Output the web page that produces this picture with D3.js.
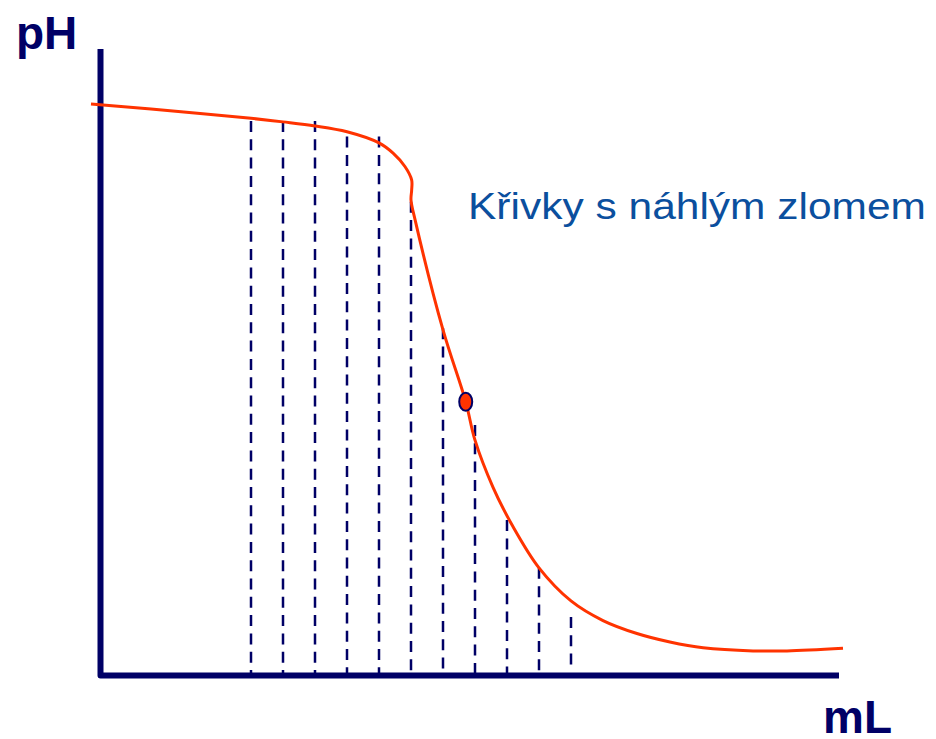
<!DOCTYPE html>
<html>
<head>
<meta charset="utf-8">
<script src="https://cdn.jsdelivr.net/npm/d3@7"></script>
<style>
  html, body { margin: 0; padding: 0; background: #fff; }
  svg { display: block; }
</style>
</head>
<body>
<div id="chart"></div>
<script>
// titration curve (mL added, pH)
const curveML = [0, 3.41, 5, 6, 7, 8, 9, 9.44, 9.81, 10.02, 10.02, 10.0, 10.13, 11.0, 11.71, 12.0, 12.56, 13.19, 14, 15, 16, 17.06, 18.09, 19.13, 20.69, 21.75, 23.5];
const curvePH = [12.79, 12.58, 12.47, 12.39, 12.30, 12.17, 11.92, 11.69, 11.39, 11.09, 10.86, 10.64, 10.19, 7.73, 6.12, 5.26, 4.21, 3.32, 2.40, 1.66, 1.22, 0.93, 0.74, 0.61, 0.54, 0.54, 0.60];

// dashed drop lines: position, top and bottom (pH)
const dropML = [5, 6, 7, 8, 9, 10, 11, 12, 13, 14, 15];
const dropTop = [12.41, 12.41, 12.41, 12.06, 12.06, 10.60, 7.77, 5.60, 3.47, 2.40, 1.30];
const dropBottom = [0, 0, 0, 0, 0, 0, 0, 0, 0, 0, 0.22];

// equivalence point
const eqML = 11.71;
const eqPH = 6.12;

const axisLabels = ["pH", "mL"];
const title = "Křivky s náhlým zlomem";

const width = 936, height = 739;
const navy = "#000066";
const red = "#ff3300";

const svg = d3.select("#chart")
    .append("svg")
    .attr("width", width)
    .attr("height", height);

const x = d3.scaleLinear()
    .domain([0, 23.5])
    .range([91, 843]);

const y = d3.scaleLinear()
    .domain([0, 14])
    .range([675, 50]);

// Dashed lines
svg.selectAll("line.drop")
    .data(dropML)
    .enter()
    .append("line")
    .attr("class", "drop")
    .attr("x1", d => x(d))
    .attr("x2", d => x(d))
    .attr("y1", (d, i) => y(dropTop[i]))
    .attr("y2", (d, i) => y(dropBottom[i]))
    .attr("stroke", navy)
    .attr("stroke-width", 2.5)
    .attr("stroke-dasharray", "11 7.3");

// Axes (no ticks in the original)
const x0 = 100.5, yTop = 49, yBase = 675.5, xEnd = 839;
svg.append("path")
    .attr("d", `M${x0},${yTop}V${yBase}H${xEnd}`)
    .attr("fill", "none")
    .attr("stroke", navy)
    .attr("stroke-width", 6)
    .attr("stroke-linejoin", "round");

// Curve
const pts = curveML.map((m, i) => [m, curvePH[i]]);
const line = d3.line()
    .x(d => x(d[0]))
    .y(d => y(d[1]))
    .curve(d3.curveCatmullRom.alpha(0.5));

svg.append("path")
    .datum(pts)
    .attr("fill", "none")
    .attr("stroke", red)
    .attr("stroke-width", 3)
    .attr("d", line);

// Equivalence point
svg.append("ellipse")
    .attr("cx", x(eqML))
    .attr("cy", y(eqPH))
    .attr("rx", 6.5)
    .attr("ry", 9)
    .attr("fill", red)
    .attr("stroke", navy)
    .attr("stroke-width", 2);

// Axis labels
svg.append("text")
    .attr("x", 16)
    .attr("y", 49)
    .attr("font-family", "Liberation Sans, Arial, sans-serif")
    .attr("font-weight", "bold")
    .attr("font-size", 46)
    .attr("fill", navy)
    .text(axisLabels[0]);

svg.append("text")
    .attr("x", 823)
    .attr("y", 733)
    .attr("font-family", "Liberation Sans, Arial, sans-serif")
    .attr("font-weight", "bold")
    .attr("font-size", 46)
    .attr("fill", navy)
    .text(axisLabels[1]);

// Annotation
svg.append("text")
    .attr("x", 468)
    .attr("y", 219)
    .attr("font-family", "Liberation Sans, Arial, sans-serif")
    .attr("font-size", 36)
    .attr("textLength", 458)
    .attr("lengthAdjust", "spacingAndGlyphs")
    .attr("fill", "#0b4f9e")
    .text(title);
</script>
</body>
</html>
